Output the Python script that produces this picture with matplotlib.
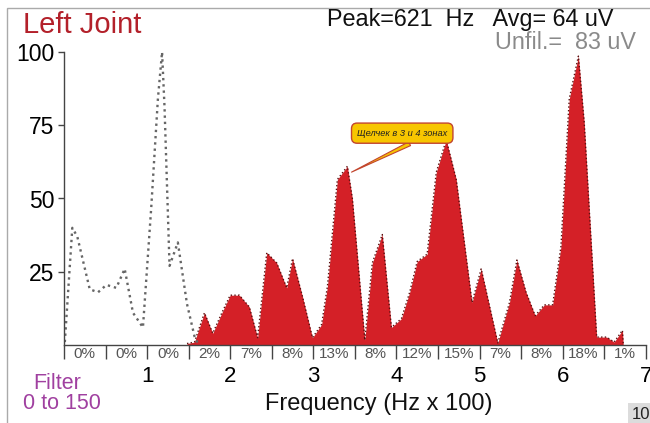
import matplotlib
matplotlib.use("Agg")
import matplotlib.pyplot as plt
from matplotlib.patches import Rectangle
from matplotlib.transforms import blended_transform_factory

plt.rcParams["font.family"] = ["Liberation Sans", "DejaVu Sans"]

# unfiltered signal (grey dotted), Hz / uV %
freq_raw = [1, 10, 16, 31, 41, 51, 63, 73, 83, 95, 105, 113, 118, 121, 127, 137, 148, 157, 162]
amp_raw = [1, 40, 37, 19, 18, 20.5, 19.5, 26, 11, 6, 47, 84, 100, 81, 27, 35, 14, 3, 0]

# filtered signal (red area)
freq_filt = [148, 157, 169, 179, 190, 200, 211, 223, 233, 244, 256, 268, 275, 287, 299,
             310, 317, 329, 341, 347, 362, 371, 383, 394, 406, 416, 425, 437, 448, 460,
             472, 491, 502, 522, 536, 545, 556, 567, 578, 588, 598, 608, 619, 626, 641,
             653, 662, 672, 673]
amp_filt = [0.5, 1, 11, 4, 11, 17, 17, 13, 2.5, 31.5, 28, 19.5, 29.5, 16.5, 2.5,
            7, 20, 56.5, 61, 50, 1.7, 28, 37.7, 6, 9, 18, 28.5, 31, 59, 70,
            56.5, 14.5, 26, 0.7, 14.4, 29, 18, 10, 13.7, 13.7, 33.6, 84, 98.6, 76, 2.7,
            2.7, 1, 5, 0]

# energy share per 50 Hz band
band_pct = ["0%", "0%", "0%", "2%", "7%", "8%", "13%", "8%", "12%", "15%", "7%", "8%", "18%", "1%"]
band_width = 50
x_ticks = [100, 200, 300, 400, 500, 600, 700]
x_ticklabels = ["1", "2", "3", "4", "5", "6", "7"]
y_ticks = [25, 50, 75, 100]

W, H = 650, 423
fig = plt.figure(figsize=(W / 100, H / 100), dpi=100)
ax = fig.add_axes([64 / W, (H - 345) / H, (645.7 - 64) / W, (345 - 52) / H])

ax.fill_between(freq_filt, amp_filt, 0, color="#d42027", lw=0)
ax.plot(freq_filt, amp_filt, color="#5a1010", ls=":", lw=1.0)
ax.plot(freq_raw, amp_raw, color="#666666", ls=":", lw=1.7)

ax.set_xlim(0, 700)
ax.set_ylim(0, 100)
for s in ["top", "right"]:
    ax.spines[s].set_visible(False)
for s in ["left", "bottom"]:
    ax.spines[s].set_color("#444444")
    ax.spines[s].set_linewidth(1.0)

ax.set_yticks(y_ticks)
ax.set_yticklabels([str(v) for v in y_ticks])
ax.tick_params(axis="y", length=4, width=1, color="#444444", labelsize=16.5, pad=3)

ax.set_xticks(x_ticks)
ax.set_xticklabels(x_ticklabels)
ax.set_xticks(list(range(0, 701, band_width)), minor=True)
ax.tick_params(axis="x", which="both", length=10, width=1, color="#444444", direction="out")
ax.tick_params(axis="x", which="major", labelsize=16, pad=5)

trans = blended_transform_factory(ax.transData, ax.transAxes)
for i, p in enumerate(band_pct):
    ax.text(i * band_width + band_width / 2, -0.031, p, transform=trans, ha="center",
            va="center", fontsize=11, color="#555555")

ax.annotate("Щелчек в 3 и 4 зонах", xy=(346, 59), xytext=(407, 72.3),
            fontsize=6.7, style="italic", ha="center", va="center", color="#222222",
            bbox=dict(boxstyle="round,pad=0.6,rounding_size=0.6", fc="#f7c600", ec="#c2452f", lw=1),
            arrowprops=dict(arrowstyle="wedge,tail_width=0.45", fc="#f7c600", ec="#c2452f",
                            lw=0.8, relpos=(0.72, 0.0), shrinkA=0, shrinkB=0))

fig.text(23 / W, 1 - 33 / H, "Left Joint", color="#b3202a", fontsize=21, va="baseline")
fig.text(327 / W, 1 - 26 / H, "Peak=621  Hz   Avg= 64 uV", color="#111111", fontsize=16.8, va="baseline")
fig.text(495 / W, 1 - 49 / H, "Unfil.=  83 uV", color="#8a8a8a", fontsize=16.8, va="baseline")
fig.text(379 / W, 1 - 410 / H, "Frequency (Hz x 100)", color="#111111", fontsize=17,
         ha="center", va="baseline")
fig.text(57 / W, 1 - 389 / H, "Filter", color="#a040a0", fontsize=15.5, ha="center", va="baseline")
fig.text(62 / W, 1 - 409 / H, "0 to 150", color="#a040a0", fontsize=15.5, ha="center", va="baseline")

# outer frame and page number box
fig.patches.append(Rectangle((7 / W, -0.1), 1.0, 1 - 8 / H + 0.1, transform=fig.transFigure,
                             fill=False, ec="#aaaaaa", lw=1))
fig.patches.append(Rectangle((628 / W, 0), 22 / W, 20 / H, transform=fig.transFigure,
                             fc="#dcdcdc", ec="none"))
fig.text(632 / W, 4 / H, "10", fontsize=12, color="#222222")

fig.savefig("out.png", dpi=100)
